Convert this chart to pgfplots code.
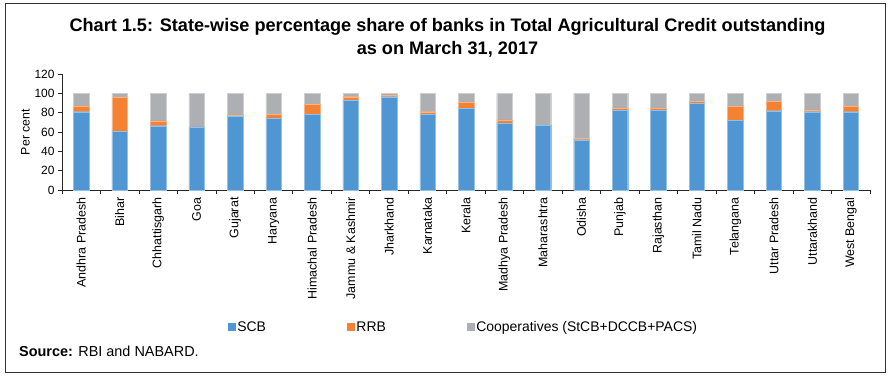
\documentclass[border=0pt]{standalone}
\usepackage{pgfplots}
\pgfplotsset{compat=1.18}
\usepackage{fontspec}
\setmainfont{Liberation Sans}
\definecolor{scb}{HTML}{4F96D3}
\definecolor{rrb}{HTML}{F58233}
\definecolor{coop}{HTML}{ADAFB2}
\pgfplotstableread{
x scb rrb coop
0 81 6 13
1 61 35 4
2 66.5 5 28.5
3 65.2 0 34.8
4 76 1.5 22.5
5 74.5 4 21.5
6 78 10.5 11.5
7 93 3.5 3.5
8 96.5 1.5 2
9 78 3 19
10 84.5 6 9.5
11 69.5 3 27.5
12 67.2 0 32.8
13 52 1.5 46.5
14 83 2 15
15 83 2 15
16 90 2 8
17 72 15 13
18 82 9.5 8.5
19 81 2 17
20 81 5.5 13.5
}\data
\begin{document}
\begin{tikzpicture}[x=1bp,y=1bp]
\useasboundingbox (0,0) rectangle (894,-379);
\draw[line width=1bp,black!80] (5,-3) rectangle (885,-372);
\node[font=\bfseries\fontsize{18.2}{23}\selectfont,align=center] at (447.5,-38)
 {Chart 1.5: State-wise percentage share of banks in Total Agricultural Credit outstanding\\as on March 31, 2017};
\node[anchor=base west,font=\fontsize{14.5}{16}\selectfont,inner sep=0pt] at (19,-356) {\textbf{Source:} RBI and NABARD.};
\begin{axis}[
  at={(62bp,-190bp)}, anchor=south west,
  scale only axis, width=808bp, height=116bp,
  ybar stacked, bar width=15.5bp,
  xmin=-0.5, xmax=20.5, ymin=0, ymax=120,
  ytick={0,20,...,120},
  axis lines=left, axis line style={-, line width=0.8bp, black!85},
  xtick=data,
  xticklabels={Andhra Pradesh,Bihar,Chhattisgarh,Goa,Gujarat,Haryana,Himachal Pradesh,Jammu \& Kashmir,Jharkhand,Karnataka,Kerala,Madhya Pradesh,Maharashtra,Odisha,Punjab,Rajasthan,Tamil Nadu,Telangana,Uttar Pradesh,Uttarakhand,West Bengal},
  x tick label style={rotate=90, anchor=east, font=\fontsize{12.5}{14}\selectfont},
  y tick label style={font=\fontsize{12}{14}\selectfont},
  /pgf/number format/assume math mode=true,
  major x tick style={draw=none},
  minor xtick={-0.5,0.5,...,20.5},
  tick align=outside,
  minor tick length=4bp, major tick length=4bp,
  tick style={black!85, line width=0.8bp},
  ylabel={Per cent}, ylabel style={font=\fontsize{12.4}{14}\selectfont, yshift=-2bp},
  legend style={at={(0.2055,-1.181)}, anchor=west, draw=none, legend columns=3,
    inner sep=0pt, nodes={inner sep=1.5bp},
    font=\fontsize{14}{16}\selectfont, /tikz/every even column/.append style={column sep=80bp}},
  legend image code/.code={\fill[#1,draw=none] (0bp,-4bp) rectangle (7.5bp,4bp);},
  clip=false,
]
\addplot[fill=scb, draw=scb!60!white, line width=0.3bp] table[x=x,y=scb]{\data};
\addplot[fill=rrb, draw=rrb!60!white, line width=0.3bp] table[x=x,y=rrb]{\data};
\addplot[fill=coop, draw=coop!60!white, line width=0.3bp] table[x=x,y=coop]{\data};
\legend{SCB,RRB,Cooperatives (StCB+DCCB+PACS)}
\end{axis}
\end{tikzpicture}
\end{document}
